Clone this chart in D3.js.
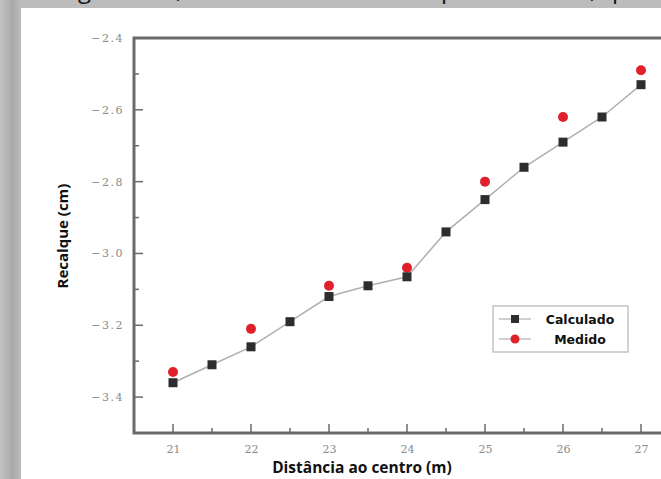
<!DOCTYPE html>
<html><head><meta charset="utf-8">
<script src="https://cdn.jsdelivr.net/npm/d3@7"></script>
<style>html,body{margin:0;padding:0;background:#fff;overflow:hidden}</style>
</head><body>
<svg id="c" width="661" height="479" style="display:block"></svg>
<script>
const xCalc = [21,21.5,22,22.5,23,23.5,24,24.5,25,25.5,26,26.5,27];
const yCalc = [-3.36,-3.31,-3.26,-3.19,-3.12,-3.09,-3.065,-2.94,-2.85,-2.76,-2.69,-2.62,-2.53];
const xMed = [21,22,23,24,25,26,27];
const yMed = [-3.33,-3.21,-3.09,-3.04,-2.80,-2.62,-2.49];
const xTicks = [21,22,23,24,25,26,27];
const yTicks = [-2.4,-2.6,-2.8,-3.0,-3.2,-3.4];
const seriesNames = ["Calculado","Medido"];
const xTitle = "Distância ao centro (m)";
const yTitle = "Recalque (cm)";
const stripGlyphs = [["ig",72],[",",176],["p",441],[",",590],["p",612]];

const svg = d3.select("#c");
const defs = svg.append("defs");
const lg = defs.append("linearGradient").attr("id","lg").attr("x1","0").attr("x2","1");
lg.append("stop").attr("offset","0").attr("stop-color","#c4c4c4");
lg.append("stop").attr("offset","0.6").attr("stop-color","#a8a8a8");
lg.append("stop").attr("offset","1").attr("stop-color","#bdbdbd");
svg.append("rect").attr("x",0).attr("y",0).attr("width",661).attr("height",8).attr("fill","#bcbcbc");
svg.append("rect").attr("x",0).attr("y",0).attr("width",21).attr("height",479).attr("fill","url(#lg)");
defs.append("clipPath").attr("id","strip").append("rect").attr("x",0).attr("y",0).attr("width",661).attr("height",8);
const sg = svg.append("g").attr("clip-path","url(#strip)");
stripGlyphs.forEach(([t,x])=>{
  sg.append("text").attr("x",x).attr("y",-2).attr("font-family","Open Sans, sans-serif")
    .attr("font-size",24).attr("fill","#111").text(t);
});

const x = d3.scaleLinear().domain([20.5,27.5]).range([134,680]);
const y = d3.scaleLinear().domain([-3.5,-2.4]).range([433,38]);
const axisColor = "#6a6a6a";

svg.append("rect").attr("x",x(20.5)).attr("y",y(-2.4)).attr("width",x(27.5)-x(20.5)).attr("height",y(-3.5)-y(-2.4))
  .attr("fill","none").attr("stroke",axisColor).attr("stroke-width",3);

const xMinor = d3.range(21,27.51,0.5);
const yMinor = d3.range(-3.5,-2.39,0.1);
const gt = svg.append("g").attr("stroke",axisColor).attr("stroke-width",1.5);
xMinor.forEach(v=>{
  const major = Number.isInteger(v);
  gt.append("line").attr("x1",x(v)).attr("x2",x(v)).attr("y1",y(-3.5)).attr("y2",y(-3.5)-(major?9:5));
});
yMinor.forEach(v=>{
  const major = Math.abs(Math.round(v*5)-v*5)<1e-6;
  gt.append("line").attr("x1",x(20.5)).attr("x2",x(20.5)+(major?9:5)).attr("y1",y(v)).attr("y2",y(v));
});

const xAxis = d3.axisBottom(x).tickValues(xTicks).tickSize(0).tickPadding(12).tickFormat(d3.format("d"));
const gx = svg.append("g").attr("transform",`translate(0,${y(-3.5)})`).call(xAxis);
gx.select(".domain").remove();
gx.selectAll("text").attr("font-family","DejaVu Serif, serif").attr("font-size",11).attr("fill","#8a8a8a");

const yAxis = d3.axisLeft(y).tickValues(yTicks).tickSize(0).tickPadding(10).tickFormat(d3.format(".1f"));
const gy = svg.append("g").attr("transform",`translate(${x(20.5)},0)`).call(yAxis);
gy.select(".domain").remove();
gy.selectAll("text").attr("font-family","DejaVu Serif, serif").attr("font-size",11).attr("fill","#8a8a8a")
  .attr("letter-spacing","1.5px").text(d=>d3.format(".1f")(d).replace("-","−"));

svg.append("text").attr("x",362).attr("y",473).attr("text-anchor","middle")
  .attr("font-family","Open Sans, sans-serif").attr("font-weight","bold").attr("font-size",15.5).attr("fill","#111").text(xTitle);
svg.append("text").attr("transform","translate(68,236) rotate(-90)").attr("text-anchor","middle")
  .attr("font-family","Open Sans, sans-serif").attr("font-weight","bold").attr("font-size",15).attr("fill","#111").text(yTitle);

const calc = xCalc.map((v,i)=>[v,yCalc[i]]);
const med = xMed.map((v,i)=>[v,yMed[i]]);
svg.append("path").datum(calc).attr("fill","none").attr("stroke","#b0b0b0").attr("stroke-width",1.5)
  .attr("d",d3.line().x(d=>x(d[0])).y(d=>y(d[1])));
svg.append("g").selectAll("circle").data(med).join("circle")
  .attr("cx",d=>x(d[0])).attr("cy",d=>y(d[1])).attr("r",5).attr("fill","#e0202a");
svg.append("g").selectAll("rect").data(calc).join("rect")
  .attr("x",d=>x(d[0])-4.5).attr("y",d=>y(d[1])-4.5).attr("width",9).attr("height",9).attr("fill","#2d2d2d");

const lgX = 493, lgY = 306;
svg.append("rect").attr("x",lgX).attr("y",lgY).attr("width",135).attr("height",46)
  .attr("fill","#fff").attr("stroke","#b5b5b5").attr("stroke-width",1.2);
seriesNames.forEach((name,i)=>{
  const cy = lgY + 13 + i*20;
  svg.append("line").attr("x1",lgX+6).attr("x2",lgX+38).attr("y1",cy).attr("y2",cy).attr("stroke","#b0b0b0").attr("stroke-width",1.2);
  if(i===0) svg.append("rect").attr("x",lgX+18).attr("y",cy-4).attr("width",8).attr("height",8).attr("fill","#2d2d2d");
  else svg.append("circle").attr("cx",lgX+22).attr("cy",cy).attr("r",4.5).attr("fill","#e0202a");
  svg.append("text").attr("x",lgX+87).attr("y",cy+4.5).attr("text-anchor","middle")
    .attr("font-family","DejaVu Sans, sans-serif").attr("font-weight","bold").attr("font-size",12.5).attr("fill","#111").text(name);
});
</script>
</body></html>
